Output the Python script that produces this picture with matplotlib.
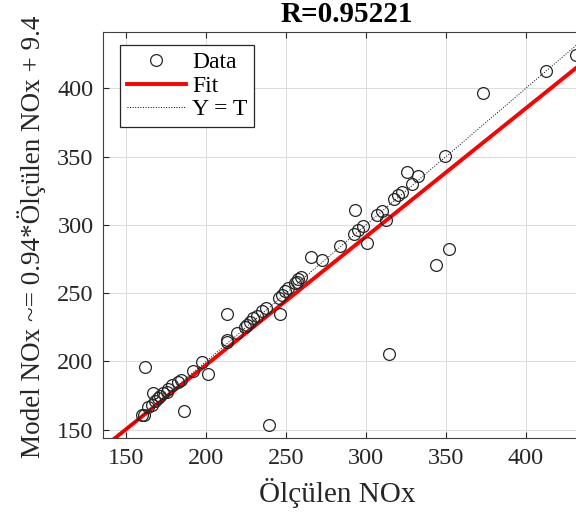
import matplotlib
matplotlib.use("Agg")
import matplotlib.pyplot as plt
import numpy as np

plt.rcParams['font.family'] = ['Liberation Serif', 'DejaVu Serif']

# targets (Ölçülen NOx) and model outputs (Model NOx)
olculen = [159.8, 161.0, 161.9, 163.9, 166.1, 167.1, 168.1, 169.8, 171.3, 173.3,
           175.4, 176.4, 178.6, 182.7, 184.4, 186.5, 191.7, 197.7, 201.4, 212.9,
           212.9, 212.9, 219.2, 224.4, 225.4, 227.5, 229.6, 231.7, 234.8, 237.5,
           239.4, 245.8, 246.3, 247.3, 249.4, 251.0, 255.6, 256.7, 257.7, 259.2,
           265.4, 272.3, 283.8, 292.5, 293.1, 294.8, 298.3, 300.8, 306.7, 309.8,
           312.5, 314.6, 317.7, 320.2, 322.7, 325.8, 328.5, 332.7, 343.8, 349.4,
           352.0, 373.3, 412.3, 431.0]
model = [161.0, 160.5, 196.3, 166.6, 168.3, 176.8, 171.4, 173.2, 174.9, 176.8,
         178.0, 179.8, 182.9, 184.9, 186.6, 163.4, 193.0, 199.5, 190.7, 213.9,
         215.8, 234.6, 220.7, 225.6, 226.8, 229.0, 231.9, 233.4, 237.0, 239.5,
         153.7, 246.3, 234.6, 248.8, 251.7, 253.7, 257.3, 258.0, 260.2, 262.1,
         276.3, 274.4, 284.6, 293.4, 310.7, 296.3, 299.2, 286.6, 307.3, 310.4,
         303.6, 205.8, 318.8, 321.9, 323.9, 338.7, 329.7, 335.8, 270.7, 350.4,
         282.4, 396.3, 412.6, 424.3]

fit_slope = 0.94
fit_intercept = 9.4
r_value = 0.95221

xlims = [135.8, 441.0]
ylims = [144.0, 441.0]
ticks = [150, 200, 250, 300, 350, 400]

fig = plt.figure(figsize=(5.76, 5.13), dpi=100)
ax = fig.add_axes([0.1793, 0.1462, 0.8477, 0.791])

ax.plot(olculen, model, 'o', mfc='none', mec='#262626', ms=8.5, mew=0.9,
        label='Data', zorder=3)
line_x = np.array(xlims)
ax.plot(line_x, fit_slope * line_x + fit_intercept, color='#ff0000', lw=2.8,
        label='Fit', zorder=2)
ax.plot(line_x, line_x, ':', color='black', lw=0.7, label='Y = T', zorder=2)

ax.set_xlim(xlims)
ax.set_ylim(ylims)
ax.set_xticks(ticks)
ax.set_yticks(ticks)
ax.grid(True, color='#dddddd', lw=0.8)
ax.set_axisbelow(True)
ax.tick_params(direction='in', length=4, width=0.8, colors='#262626',
               labelsize=17.5, top=True, right=True, pad=7)
for sp in ax.spines.values():
    sp.set_color('#404040')
    sp.set_linewidth(0.8)

fig.text(347 / 576, 1 - 15 / 513, 'R=%.5f' % r_value, fontsize=21,
         fontweight='bold', ha='center', va='center')
ax.set_xlabel('Ölçülen NOx', fontsize=21, color='#262626')
ax.xaxis.set_label_coords(0.48, -0.136)
ax.xaxis.label.set_va('center')
ax.set_ylabel('Model NOx ~= 0.94*Ölçülen NOx + 9.4', fontsize=19.5, color='#262626')
ax.yaxis.set_label_coords(-0.146, 0.495)
ax.yaxis.label.set_va('center')

leg = ax.legend(loc='upper left', bbox_to_anchor=(0.034, 0.969), borderaxespad=0,
                fontsize=17, fancybox=False, edgecolor='#262626', framealpha=1,
                handlelength=2.5, handletextpad=0.25, labelspacing=0.08,
                borderpad=0.3)
leg.get_frame().set_linewidth(0.9)

fig.savefig('out.png', dpi=100)
